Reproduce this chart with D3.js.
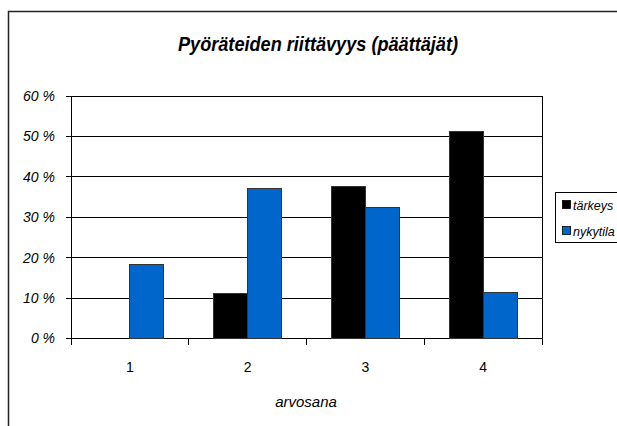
<!DOCTYPE html>
<meta charset="utf-8">
<head>
  <style>
    body { margin: 0; background: #fff; }
    svg { display: block; font-family: "Liberation Sans", Arial, sans-serif; }
    .grid line { stroke: #000; stroke-width: 1; shape-rendering: crispEdges; }
    .bar { stroke: #333; stroke-width: 1; shape-rendering: crispEdges; }
  </style>
</head>
<body>
  <script src="https://d3js.org/d3.v7.min.js"></script>
  <div id="chart"></div>
  <script>
    var categories = ["1", "2", "3", "4"];
    var seriesNames = ["tärkeys", "nykytila"];
    var tarkeys = [0, 11.1, 37.7, 51.2];
    var nykytila = [18.4, 37.0, 32.3, 11.3];
    var yTicks = [0, 10, 20, 30, 40, 50, 60];
    var colors = ["#000000", "#0066cc"];

    var width = 617, height = 426;
    var plotLeft = 71, plotRight = 542, plotTop = 96, plotBottom = 338.5;

    var svg = d3.select('#chart').append('svg')
      .attr('width', width)
      .attr('height', height);

    // outer frame (cut off at right and bottom like the original)
    svg.append('path')
      .attr('d', 'M8.5,' + height + 'V11.5H' + width)
      .attr('fill', 'none')
      .attr('stroke', '#222')
      .attr('stroke-width', 1.5);

    svg.append('text')
      .attr('x', 318).attr('y', 51)
      .attr('text-anchor', 'middle')
      .attr('textLength', 280)
      .attr('lengthAdjust', 'spacingAndGlyphs')
      .style('font-size', '20px')
      .style('font-weight', 'bold')
      .style('font-style', 'italic')
      .text('Pyöräteiden riittävyys (päättäjät)');

    var x = d3.scaleBand()
      .domain(categories)
      .range([plotLeft, plotRight])
      .paddingInner(0.4225)
      .paddingOuter(0.21125);

    var x1 = d3.scaleBand()
      .domain(seriesNames)
      .range([0, x.bandwidth()]);

    var y = d3.scaleLinear()
      .domain([0, 60])
      .range([plotBottom, plotTop]);

    // grid lines
    svg.append('g').attr('class', 'grid')
      .selectAll('line')
      .data(yTicks)
      .enter().append('line')
      .attr('x1', plotLeft - 5).attr('x2', plotRight)
      .attr('y1', d => y(d)).attr('y2', d => y(d));

    // right side of the plot frame
    svg.append('line')
      .attr('x1', plotRight).attr('x2', plotRight)
      .attr('y1', plotTop).attr('y2', plotBottom)
      .attr('stroke', '#000').style('shape-rendering', 'crispEdges');

    var yAxis = d3.axisLeft(y)
      .tickValues(yTicks)
      .tickSize(0)
      .tickPadding(16)
      .tickFormat(d => d + ' %');
    var gy = svg.append('g')
      .attr('transform', 'translate(' + plotLeft + ',0)')
      .call(yAxis);
    gy.select('.domain').attr('stroke', '#000').style('shape-rendering', 'crispEdges');
    gy.selectAll('text')
      .style('font-size', '14px')
      .style('font-style', 'italic')
      .attr('fill', '#000');

    // x axis ticks at category boundaries
    var step = x.step();
    var bounds = d3.range(categories.length + 1).map(i => plotLeft + i * step);
    svg.append('g').selectAll('line')
      .data(bounds)
      .enter().append('line')
      .attr('x1', d => d).attr('x2', d => d)
      .attr('y1', plotBottom).attr('y2', plotBottom + 6)
      .attr('stroke', '#000')
      .style('shape-rendering', 'crispEdges');

    svg.append('g').selectAll('text')
      .data(categories)
      .enter().append('text')
      .attr('x', d => x(d) + x.bandwidth() / 2)
      .attr('y', 372)
      .attr('text-anchor', 'middle')
      .style('font-size', '14px')
      .text(d => d);

    svg.append('text')
      .attr('x', 306).attr('y', 407)
      .attr('text-anchor', 'middle')
      .style('font-size', '15px')
      .style('font-style', 'italic')
      .text('arvosana');

    // bars
    var rows = categories.map((c, i) => ({ cat: c, values: [tarkeys[i], nykytila[i]] }));
    var groups = svg.append('g').selectAll('g')
      .data(rows)
      .enter().append('g')
      .attr('transform', d => 'translate(' + x(d.cat) + ',0)');

    groups.selectAll('rect')
      .data(d => d.values
        .map((v, j) => ({ name: seriesNames[j], value: v, j: j }))
        .filter(d => d.value > 0))
      .enter().append('rect')
      .attr('class', 'bar')
      .attr('x', d => x1(d.name))
      .attr('width', x1.bandwidth())
      .attr('y', d => y(d.value))
      .attr('height', d => y(0) - y(d.value))
      .attr('fill', d => colors[d.j]);

    // legend
    var lg = svg.append('g');
    lg.append('rect')
      .attr('x', 555.5).attr('y', 192.5)
      .attr('width', 80).attr('height', 50)
      .attr('fill', '#fff').attr('stroke', '#000');

    var items = lg.selectAll('g.item')
      .data(seriesNames)
      .enter().append('g')
      .attr('class', 'item')
      .attr('transform', (d, i) => 'translate(0,' + (205 + i * 26) + ')');
    items.append('rect')
      .attr('x', 562.5).attr('y', -4.5)
      .attr('width', 8).attr('height', 8)
      .attr('fill', (d, i) => colors[i])
      .attr('stroke', '#000').attr('stroke-width', 0.8);
    items.append('text')
      .attr('x', 573).attr('y', 4.5)
      .style('font-size', '12.5px')
      .style('font-style', 'italic')
      .text(d => d);
  </script>
</body>
